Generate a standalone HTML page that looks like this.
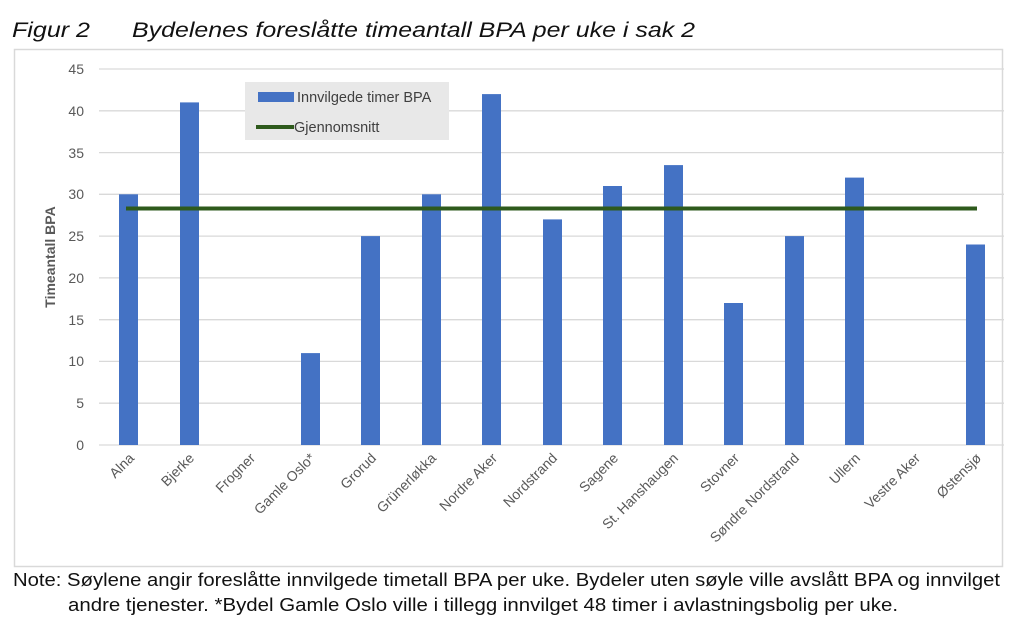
<!DOCTYPE html>
<html><head><meta charset="utf-8"><style>
body{margin:0;background:#fff;width:1024px;height:623px;overflow:hidden;font-family:"Liberation Sans",sans-serif}
</style></head><body>
<svg width="1024" height="623" xmlns="http://www.w3.org/2000/svg" font-family="Liberation Sans, sans-serif">
<text x="12" y="37" font-size="21" font-style="italic" fill="#111" textLength="78" lengthAdjust="spacingAndGlyphs">Figur 2</text>
<text x="132" y="37" font-size="21" font-style="italic" fill="#111" textLength="563" lengthAdjust="spacingAndGlyphs">Bydelenes foreslåtte timeantall BPA per uke i sak 2</text>
<rect x="14.5" y="49.5" width="988" height="517" fill="#fff" stroke="#d9d9d9" stroke-width="1.5"/>
<g stroke="#d9d9d9" stroke-width="1.3">
<line x1="99" x2="1004" y1="69" y2="69"/><line x1="99" x2="1004" y1="110.8" y2="110.8"/>
<line x1="99" x2="1004" y1="152.6" y2="152.6"/><line x1="99" x2="1004" y1="194.3" y2="194.3"/>
<line x1="99" x2="1004" y1="236.1" y2="236.1"/><line x1="99" x2="1004" y1="277.9" y2="277.9"/>
<line x1="99" x2="1004" y1="319.7" y2="319.7"/><line x1="99" x2="1004" y1="361.4" y2="361.4"/>
<line x1="99" x2="1004" y1="403.2" y2="403.2"/><line x1="99" x2="1004" y1="445" y2="445"/>
</g>
<g font-size="14" fill="#595959" text-anchor="end">
<text x="84" y="74">45</text><text x="84" y="116">40</text><text x="84" y="158">35</text>
<text x="84" y="199">30</text><text x="84" y="241">25</text><text x="84" y="283">20</text>
<text x="84" y="325">15</text><text x="84" y="366">10</text><text x="84" y="408">5</text><text x="84" y="450">0</text>
</g>
<text transform="translate(55,257) rotate(-90)" font-size="14" font-weight="bold" fill="#595959" text-anchor="middle">Timeantall BPA</text>
<g fill="#4472c4">
<rect x="119" y="194.3" width="19" height="250.7"/>
<rect x="180" y="102.4" width="19" height="342.6"/>
<rect x="301" y="353.1" width="19" height="91.9"/>
<rect x="361" y="236.1" width="19" height="208.9"/>
<rect x="422" y="194.3" width="19" height="250.7"/>
<rect x="482" y="94.1" width="19" height="350.9"/>
<rect x="543" y="219.4" width="19" height="225.6"/>
<rect x="603" y="186" width="19" height="259"/>
<rect x="664" y="165.1" width="19" height="279.9"/>
<rect x="724" y="303" width="19" height="142"/>
<rect x="785" y="236.1" width="19" height="208.9"/>
<rect x="845" y="177.6" width="19" height="267.4"/>
<rect x="966" y="244.5" width="19" height="200.5"/>
</g>
<line x1="126" x2="977" y1="208.5" y2="208.5" stroke="#2e5a1c" stroke-width="4"/>
<rect x="245" y="82" width="204" height="58" fill="#e8e8e8"/>
<rect x="258" y="92" width="36" height="10" fill="#4472c4"/>
<text x="297" y="102" font-size="14.5" fill="#404040">Innvilgede timer BPA</text>
<line x1="256" x2="294" y1="127" y2="127" stroke="#2e5a1c" stroke-width="4"/>
<text x="294" y="132" font-size="14.5" fill="#404040">Gjennomsnitt</text>
<g font-size="14" fill="#595959" text-anchor="end">
<text transform="translate(135,459) rotate(-45)">Alna</text>
<text transform="translate(195,459) rotate(-45)">Bjerke</text>
<text transform="translate(256,459) rotate(-45)">Frogner</text>
<text transform="translate(316,459) rotate(-45)">Gamle Oslo*</text>
<text transform="translate(377,459) rotate(-45)">Grorud</text>
<text transform="translate(437,459) rotate(-45)">Grünerløkka</text>
<text transform="translate(498,459) rotate(-45)">Nordre Aker</text>
<text transform="translate(558,459) rotate(-45)">Nordstrand</text>
<text transform="translate(619,459) rotate(-45)">Sagene</text>
<text transform="translate(679,459) rotate(-45)">St. Hanshaugen</text>
<text transform="translate(740,459) rotate(-45)">Stovner</text>
<text transform="translate(800,459) rotate(-45)">Søndre Nordstrand</text>
<text transform="translate(861,459) rotate(-45)">Ullern</text>
<text transform="translate(921,459) rotate(-45)">Vestre Aker</text>
<text transform="translate(982,459) rotate(-45)">Østensjø</text>
</g>
<text x="13" y="586" font-size="18" fill="#111" textLength="987" lengthAdjust="spacingAndGlyphs">Note: Søylene angir foreslåtte innvilgede timetall BPA per uke. Bydeler uten søyle ville avslått BPA og innvilget</text>
<text x="68" y="611" font-size="18" fill="#111" textLength="830" lengthAdjust="spacingAndGlyphs">andre tjenester. *Bydel Gamle Oslo ville i tillegg innvilget 48 timer i avlastningsbolig per uke.</text>
</svg>
</body></html>
